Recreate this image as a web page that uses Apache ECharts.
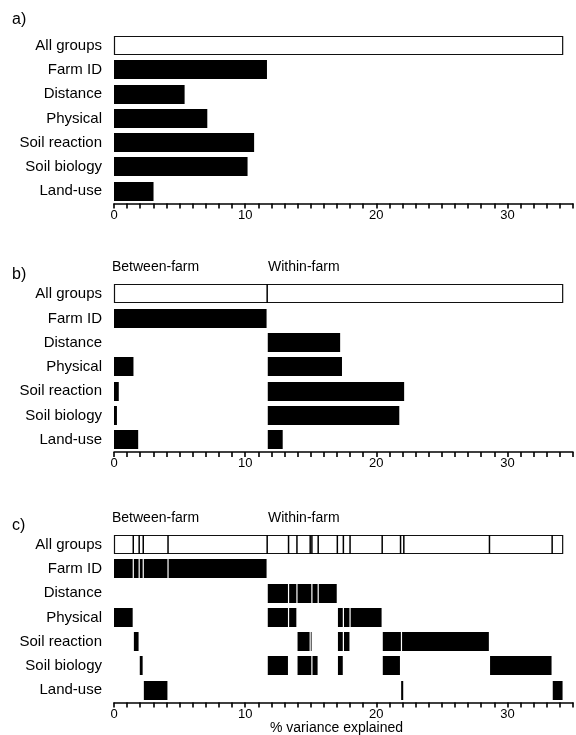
<!DOCTYPE html>
<html><head><meta charset="utf-8">
<script src="https://cdn.jsdelivr.net/npm/echarts@6/dist/echarts.min.js"></script>
<style>html,body{margin:0;padding:0;background:#fff}#c{width:576px;height:735px}</style>
</head><body><div id="c"></div>
<script>
// ---------- data ----------
const categories = ['All groups', 'Farm ID', 'Distance', 'Physical', 'Soil reaction', 'Soil biology', 'Land-use'];
const xTickLabels = [0, 10, 20, 30];
const xMax = 35;
const allGroupsTotal = 34.25;

// panel a: total % variance per group (Farm ID .. Land-use)
const panelA = [11.71, 5.43, 7.16, 10.73, 10.23, 3.06];

// panel b: between-farm part and end of within-farm part (Farm ID .. Land-use)
const panelBSplit = 11.68;
const panelBBetween = [11.68, 0, 1.53, 0.41, 0.27, 1.89];
const panelBWithinEnd = [null, 17.29, 17.43, 22.17, 21.80, 12.91];

// panel c: fraction boundaries in "All groups" and pieces of each group
const panelCBreaks = [1.47, 1.92, 2.23, 4.12, 11.68, 13.31, 13.95, 14.96, 15.09, 15.57, 17.03, 17.49, 18.00, 20.45, 21.85, 22.10, 28.63, 33.41];
const panelCFarmID = [[0, 1.47], [1.47, 1.92], [1.92, 2.23], [2.23, 4.12], [4.12, 11.68]];
const panelCDistance = [[11.68, 13.31], [13.31, 13.95], [13.95, 15.09], [15.09, 15.57], [15.57, 17.03]];
const panelCPhysical = [[0, 1.47], [11.68, 13.31], [13.31, 13.95], [17.03, 17.49], [17.49, 18.00], [18.00, 20.45]];
const panelCSoilReaction = [[1.47, 1.92], [13.95, 14.96], [14.96, 15.09], [17.03, 17.49], [17.49, 18.00], [20.45, 21.92], [21.92, 28.63]];
const panelCSoilBiology = [[1.92, 2.23], [11.68, 13.31], [13.95, 15.09], [15.09, 15.57], [17.03, 17.49], [20.45, 21.85], [28.63, 33.41]];
const panelCLandUse = [[2.23, 4.12], [21.85, 22.10], [33.41, 34.25]];

// ---------- build series data ----------
// item: [categoryIndex, start, end, kind]  kind 0 = black piece, 1 = open box, 2 = divider line
function buildA() {
  const d = [[0, 0, allGroupsTotal, 1]];
  panelA.forEach((v, i) => d.push([i + 1, 0, v, 0]));
  return d;
}
function buildB() {
  const d = [[0, 0, allGroupsTotal, 1], [0, panelBSplit, panelBSplit, 2]];
  panelBBetween.forEach((v, i) => { if (v > 0) d.push([i + 1, 0, v, 0]); });
  panelBWithinEnd.forEach((v, i) => { if (v != null) d.push([i + 1, panelBSplit, v, 0]); });
  return d;
}
function buildC() {
  const d = [[0, 0, allGroupsTotal, 1]];
  panelCBreaks.forEach(b => d.push([0, b, b, 2]));
  [panelCFarmID, panelCDistance, panelCPhysical, panelCSoilReaction, panelCSoilBiology, panelCLandUse]
    .forEach((pieces, i) => pieces.forEach(p => d.push([i + 1, p[0], p[1], 0])));
  return d;
}

function renderPiece(params, api) {
  const cat = api.value(0), s = api.value(1), e = api.value(2), kind = api.value(3);
  const p0 = api.coord([s, cat]), p1 = api.coord([e, cat]);
  const band = api.size([0, 1])[1];
  const h = band * 0.8;
  const y = p0[1] - h / 2;
  if (kind === 1) {
    return { type: 'rect', shape: { x: Math.round(p0[0]) + 0.5, y: Math.round(y) + 0.5, width: p1[0] - p0[0] - 1, height: Math.round(h) - 1 },
      style: { fill: '#fff', stroke: '#111', lineWidth: 1.2 } };
  }
  if (kind === 2) {
    return { type: 'line', shape: { x1: p0[0], y1: Math.round(y), x2: p0[0], y2: Math.round(y) + Math.round(h) },
      style: { stroke: '#000', lineWidth: 1.5 } };
  }
  const gl = s === 0 ? 0 : 0.6;
  return { type: 'rect', shape: { x: p0[0] + gl, y: Math.round(y), width: Math.max(p1[0] - p0[0] - gl - 0.6, 0.8), height: Math.round(h) },
    style: { fill: '#000' } };
}

const FONT = 'Liberation Sans, Arial, Helvetica, sans-serif';
const gridTops = [33.5, 282, 532.5];
const grids = gridTops.map(t => ({ left: 114, right: 1, top: t, height: 170 }));
const xAxes = gridTops.map((t, i) => ({
  type: 'value', gridIndex: i, min: 0, max: xMax, interval: 1,
  splitLine: { show: false },
  axisLine: { show: true, onZero: false, lineStyle: { color: '#000', width: 1.5 } },
  axisTick: { show: true, length: 5, lineStyle: { color: '#000', width: 1.6 } },
  axisLabel: { color: '#000', fontSize: 13, fontFamily: FONT, margin: 5,
    formatter: v => xTickLabels.indexOf(v) >= 0 ? String(v) : '' }
}));
const yAxes = gridTops.map((t, i) => ({
  type: 'category', gridIndex: i, data: categories, inverse: true,
  axisLine: { show: false }, axisTick: { show: false }, splitLine: { show: false },
  axisLabel: { color: '#000', fontSize: 15, fontFamily: FONT, margin: 12 }
}));
const series = [buildA(), buildB(), buildC()].map((data, i) => ({
  type: 'custom', xAxisIndex: i, yAxisIndex: i, renderItem: renderPiece,
  encode: { x: [1, 2], y: 0 }, data: data, clip: false, silent: true
}));

const txt = (x, y, s, size, align) => ({ type: 'text', left: x, top: y,
  style: { text: s, fill: '#000', font: size + 'px ' + FONT, textAlign: align || 'left' } });

const chart = echarts.init(document.getElementById('c'), null, { renderer: 'canvas' });
chart.setOption({
  backgroundColor: '#fff',
  animation: false,
  grid: grids, xAxis: xAxes, yAxis: yAxes, series: series,
  graphic: [
    txt(12, 12, 'a)', 16),
    txt(12, 267, 'b)', 16),
    txt(12, 518, 'c)', 16),
    txt(112, 260, 'Between-farm', 14),
    txt(268, 260, 'Within-farm', 14),
    txt(112, 511, 'Between-farm', 14),
    txt(268, 511, 'Within-farm', 14),
    txt(270, 721, '% variance explained', 14)
  ]
});
</script></body></html>
